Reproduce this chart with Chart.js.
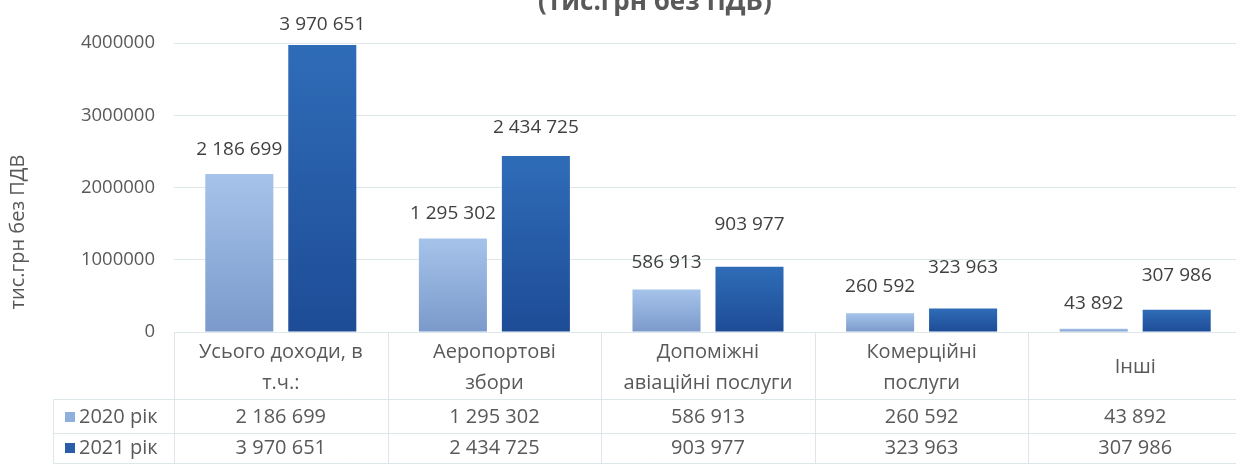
<!DOCTYPE html>
<html>
<head>
<meta charset="utf-8">
<script src="https://cdn.jsdelivr.net/npm/chart.js@4/dist/chart.umd.min.js"></script>
<style>
  html, body { margin: 0; padding: 0; background: #fff; overflow: hidden; }
  #wrap { position: relative; width: 1244px; height: 468px; }
</style>
</head>
<body>
<div id="wrap"><canvas id="chart"></canvas></div>
<script>
// categories (two-line labels as in the data table)
const categories = [
  ['Усього доходи, в', 'т.ч.:'],
  ['Аеропортові', 'збори'],
  ['Допоміжні', 'авіаційні послуги'],
  ['Комерційні', 'послуги'],
  ['Інші']
];
const seriesNames = ['2020 рік', '2021 рік'];
const values2020 = [2186699, 1295302, 586913, 260592, 43892];
const values2021 = [3970651, 2434725, 903977, 323963, 307986];
const yTicks = [0, 1000000, 2000000, 3000000, 4000000];

const titleText = '(тис.грн без ПДВ)';
const yTitleText = 'тис.грн без ПДВ';

const FONT = '"Open Sans", "DejaVu Sans", sans-serif';
const TEXT = '#595959';
const GRID = '#dde7e9';

// how far above each bar its label sits (labels were moved by hand in the original)
const labelLift = [
  [24, 25, 27, 27, 25],
  [21, 28, 42, 41, 34]
];

function fmt(v) {
  return String(v).replace(/\B(?=(\d{3})+(?!\d))/g, ' ');
}

// vertical gradient per bar, like the Excel fill
function barGradient(top, bottom) {
  return (ctx) => {
    const chart = ctx.chart;
    if (!chart.chartArea || ctx.raw == null) return bottom;
    const y = chart.scales.y;
    const y0 = y.getPixelForValue(ctx.raw);
    const y1 = y.getPixelForValue(0);
    const g = chart.ctx.createLinearGradient(0, y0, 0, Math.max(y1, y0 + 1));
    g.addColorStop(0, top);
    g.addColorStop(1, bottom);
    return g;
  };
}

const legendColors = ['#8fb0dd', '#2a5ca8'];

// value labels above bars
const valueLabels = {
  id: 'valueLabels',
  afterDatasetsDraw(chart) {
    const c = chart.ctx;
    c.save();
    c.font = '19px ' + FONT;
    c.fillStyle = '#404040';
    c.textAlign = 'center';
    c.textBaseline = 'middle';
    chart.data.datasets.forEach((ds, i) => {
      chart.getDatasetMeta(i).data.forEach((bar, j) => {
        c.fillText(fmt(ds.data[j]), bar.x, bar.y - labelLift[i][j]);
      });
    });
    c.restore();
  }
};

// data table, y title and the cut-off title
const dataTable = {
  id: 'dataTable',
  afterDraw(chart) {
    const c = chart.ctx;
    const x = chart.scales.x;
    const area = chart.chartArea;
    const half = (x.getPixelForValue(1) - x.getPixelForValue(0)) / 2;
    const tableLeft = 53;
    const rowTop = area.bottom;
    const row1 = 399;
    const row2 = 433;
    const rowEnd = 463;

    c.save();
    c.strokeStyle = GRID;
    c.lineWidth = 1;
    c.beginPath();
    c.moveTo(tableLeft, row1 + 0.5); c.lineTo(chart.width, row1 + 0.5);
    c.moveTo(tableLeft, row2 + 0.5); c.lineTo(chart.width, row2 + 0.5);
    c.moveTo(tableLeft, rowEnd + 0.5); c.lineTo(chart.width, rowEnd + 0.5);
    c.moveTo(tableLeft + 0.5, row1); c.lineTo(tableLeft + 0.5, rowEnd);
    for (let i = 0; i <= categories.length; i++) {
      const bx = Math.round(x.getPixelForValue(0) - half + i * 2 * half) + 0.5;
      c.moveTo(bx, rowTop); c.lineTo(bx, rowEnd);
    }
    c.stroke();

    c.fillStyle = TEXT;
    c.textAlign = 'center';
    c.textBaseline = 'middle';
    c.font = '20px ' + FONT;
    categories.forEach((lines, i) => {
      const cx = x.getPixelForValue(i);
      if (lines.length === 1) {
        c.fillText(lines[0], cx, 367);
      } else {
        c.fillText(lines[0], cx, 352);
        c.fillText(lines[1], cx, 383);
      }
    });
    [values2020, values2021].forEach((vals, r) => {
      const cy = r === 0 ? 417 : 448;
      vals.forEach((v, i) => c.fillText(fmt(v), x.getPixelForValue(i), cy));
      c.fillStyle = legendColors[r];
      c.fillRect(65, cy - 5, 10, 10);
      c.fillStyle = TEXT;
      c.textAlign = 'left';
      c.fillText(seriesNames[r], 79, cy);
      c.textAlign = 'center';
    });

    // y axis title
    c.save();
    c.translate(18, 232);
    c.rotate(-Math.PI / 2);
    c.font = '20px ' + FONT;
    c.fillText(yTitleText, 0, 0);
    c.restore();

    // chart title, cut by the top edge
    c.font = 'bold 26px ' + FONT;
    c.textBaseline = 'alphabetic';
    c.fillText(titleText, 655, 10);
    c.restore();
  }
};

new Chart(document.getElementById('chart'), {
  type: 'bar',
  data: {
    labels: categories,
    datasets: [
      {
        label: seriesNames[0],
        data: values2020,
        backgroundColor: barGradient('#a5c3ea', '#7b9acb'),
        categoryPercentage: 0.777,
        barPercentage: 0.82
      },
      {
        label: seriesNames[1],
        data: values2021,
        backgroundColor: barGradient('#2f6cb8', '#1e4c96'),
        categoryPercentage: 0.777,
        barPercentage: 0.82
      }
    ]
  },
  options: {
    responsive: true,
    maintainAspectRatio: false,
    animation: false,
    layout: { padding: { top: 43, bottom: 136, right: 2, left: 0 } },
    plugins: {
      legend: { display: false },
      tooltip: { enabled: false },
      title: { display: false }
    },
    scales: {
      x: { display: false },
      y: {
        min: 0,
        max: 4000000,
        afterFit(scale) { scale.width = 174; },
        afterBuildTicks(scale) { scale.ticks = yTicks.map(v => ({ value: v })); },
        border: { display: false },
        grid: { color: GRID, drawTicks: false },
        ticks: {
          padding: 19,
          color: TEXT,
          font: { family: FONT, size: 18.5 },
          callback: (v) => String(v)
        }
      }
    }
  },
  plugins: [valueLabels, dataTable]
});
</script>
</body>
</html>
